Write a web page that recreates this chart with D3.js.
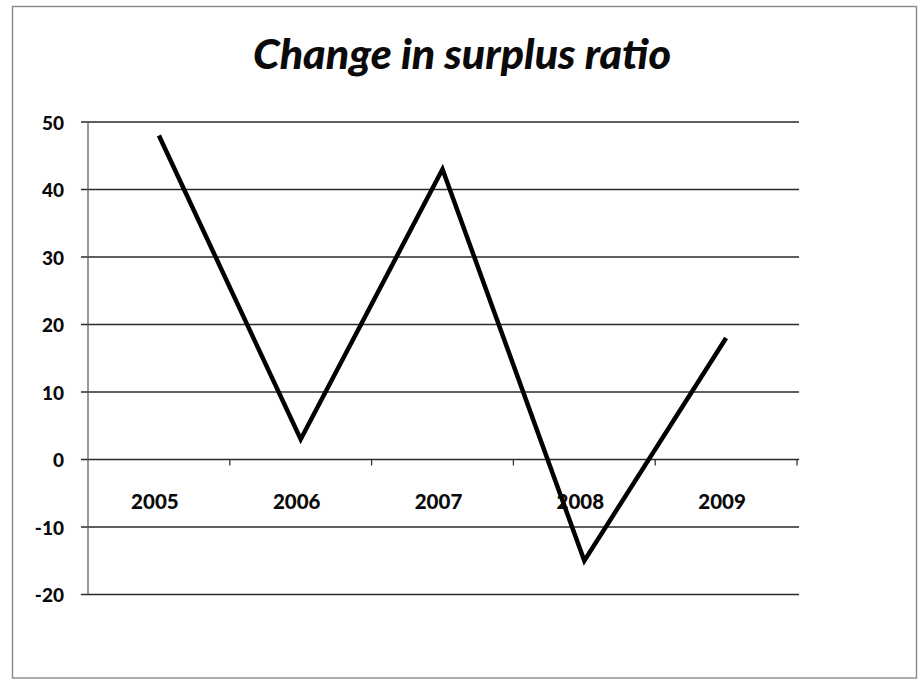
<!DOCTYPE html>
<html>
<head>
<meta charset="utf-8">
<script src="https://cdn.jsdelivr.net/npm/d3@7"></script>
<style>
  html, body { margin: 0; padding: 0; background: #fff; }
  svg { display: block; }
  text { font-family: Lato, "Open Sans", "DejaVu Sans", sans-serif; fill: #0a0a0a; }
</style>
</head>
<body>
<script>
// Chart data
const years = ["2005", "2006", "2007", "2008", "2009"];
const surplusChange = [48, 3, 43, -15, 18];
const yTicks = [-20, -10, 0, 10, 20, 30, 40, 50];
const chartTitle = "Change in surplus ratio";

const width = 918, height = 681;
const plot = { left: 88, right: 797, top: 122, bottom: 594.5 };

const svg = d3.select("body").append("svg")
  .attr("width", width).attr("height", height);

// outer frame
svg.append("rect")
  .attr("x", 12.5).attr("y", 6.5)
  .attr("width", 904).attr("height", 671.5)
  .attr("fill", "none").attr("stroke", "#8a8a8a").attr("stroke-width", 1.4);

const x = d3.scaleBand().domain(years).range([plot.left, plot.right]);
const y = d3.scaleLinear().domain([-20, 50]).range([plot.bottom, plot.top]);

// horizontal gridlines with short outside ticks
svg.append("g").selectAll("line").data(yTicks).join("line")
  .attr("x1", plot.left - 7).attr("x2", 799)
  .attr("y1", d => y(d)).attr("y2", d => y(d))
  .attr("stroke", "#2a2a2a").attr("stroke-width", 1.6);

// vertical axis line
svg.append("line")
  .attr("x1", plot.left).attr("x2", plot.left)
  .attr("y1", y(50)).attr("y2", y(-20))
  .attr("stroke", "#555").attr("stroke-width", 1.2);

// y tick labels
svg.append("g").selectAll("text").data(yTicks).join("text")
  .attr("x", 64).attr("y", d => y(d))
  .attr("text-anchor", "end").attr("dominant-baseline", "central")
  .attr("font-size", 19).attr("font-weight", 900)
  .text(d => d);

// category axis on the zero line, ticks between categories
const bounds = years.map(d => x(d)).concat([x.range()[1]]).slice(1);
svg.append("g").selectAll("line").data(bounds).join("line")
  .attr("x1", d => d).attr("x2", d => d)
  .attr("y1", y(0)).attr("y2", y(0) + 6)
  .attr("stroke", "#333").attr("stroke-width", 1.3);

svg.append("g").selectAll("text").data(years).join("text")
  .attr("x", d => x(d) + x.bandwidth() / 2 - 4)
  .attr("y", 501)
  .attr("text-anchor", "middle").attr("dominant-baseline", "central")
  .attr("font-size", 20.5).attr("font-weight", 900)
  .text(d => d);

// series line
const line = d3.line()
  .x((d, i) => x(years[i]) + x.bandwidth() / 2)
  .y(d => y(d));

svg.append("path")
  .datum(surplusChange)
  .attr("d", line)
  .attr("fill", "none").attr("stroke", "#000")
  .attr("stroke-width", 4.5).attr("stroke-linejoin", "miter")
  .attr("stroke-linecap", "butt");

// title
svg.append("text")
  .attr("x", 462).attr("y", 69)
  .attr("text-anchor", "middle")
  .attr("font-size", 41).attr("font-weight", 900).attr("font-style", "italic")
  .attr("textLength", 418).attr("lengthAdjust", "spacingAndGlyphs")
  .text(chartTitle);
</script>
</body>
</html>
